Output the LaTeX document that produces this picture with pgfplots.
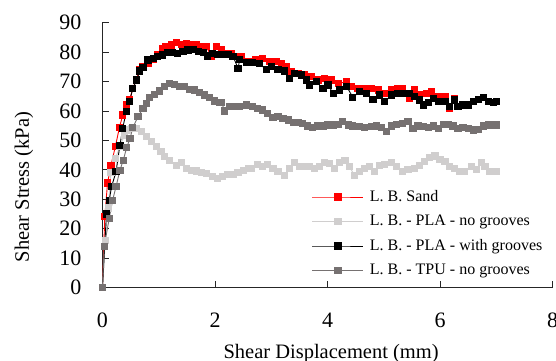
\documentclass[border=0pt]{standalone}
\usepackage{pgfplots}
\pgfplotsset{compat=1.18}
\usepackage{fontspec}
\setmainfont{Liberation Serif}
\definecolor{lgray}{HTML}{D0CECE}
\definecolor{dgray}{HTML}{767171}
\begin{document}
\begin{tikzpicture}
\begin{axis}[
  at={(0,0)}, anchor=south west,
  scale only axis, width=450pt, height=264.8pt,
  xmin=0, xmax=8, ymin=0, ymax=90,
  axis lines=left,
  axis line style={-, black!85, line width=0.8pt},
  xtick={0,2,4,6,8}, ytick={0,10,...,90},
  tick align=inside, major tick length=7pt,
  tick style={black!85, line width=0.8pt},
  /pgf/number format/assume math mode=true,
  ticklabel style={font=\fontsize{22}{22}\selectfont},
  xticklabel style={inner sep=0pt, anchor=north, yshift=-25pt},
  yticklabel style={inner sep=0pt, anchor=east, xshift=-20.8pt},
  xlabel={Shear Displacement (mm)},
  ylabel={Shear Stress (kPa)},
  label style={font=\fontsize{20.5}{20.5}\selectfont},
  xlabel style={at={(axis description cs:0.508,0)}, anchor=base, yshift=-70.5pt},
  ylabel style={at={(axis description cs:-0.1744,0.3795)}, anchor=center},
  clip=false,
  every axis plot/.append style={line width=0.9pt, mark=square*, mark size=3.1pt},
  legend cell align=left,
  legend image code/.code={\draw[mark repeat=2,mark phase=2] plot coordinates {(0pt,0pt) (25.5pt,0pt) (51pt,0pt)};},
  legend style={at={(axis description cs:0.4656,0.372)}, anchor=north west,
    draw=none, fill=none, inner sep=0pt, outer sep=0pt,
    font=\fontsize{16}{16}\selectfont,
    nodes={inner sep=0pt, text height=12pt, text depth=4pt},
    row sep=8.5pt,
    /tikz/every odd column/.append style={column sep=6pt}},
]
\addplot[color=red, mark options={solid, fill=red, draw=red, line width=0pt}] coordinates {
(0,0) (0.04,24) (0.09,35.5) (0.15,41.5) (0.23,48) (0.30,54.3) (0.36,58.6) (0.42,62)
(0.48,63.7) (0.54,67.7) (0.60,70.7) (0.66,73.9) (0.72,75) (0.81,76.2) (0.90,77.5)
(0.98,79) (1.07,81.2) (1.13,82) (1.22,82.4) (1.31,83.2) (1.40,82.7) (1.49,82.9)
(1.58,82.6) (1.67,82.4) (1.76,82) (1.85,82) (1.93,78.4) (2.02,81.8) (2.11,81)
(2.20,79.5) (2.29,79.5) (2.38,78.6) (2.47,78.6) (2.56,76.7) (2.65,76.7) (2.73,77.3)
(2.85,77.9) (2.97,76.7) (3.09,76.7) (3.18,76.2) (3.27,75) (3.36,73.3) (3.48,72.8)
(3.59,72.2) (3.71,71.6) (3.83,70.5) (3.95,71) (4.07,70.5) (4.19,69.4) (4.34,69.9)
(4.43,68.2) (4.54,67.7) (4.66,67.7) (4.78,67.7) (4.90,67.1) (5.02,66) (5.14,67.1)
(5.25,67.7) (5.34,67.7) (5.46,64.3) (5.55,67.1) (5.64,65.4) (5.76,66) (5.85,66.5)
(5.97,64.8) (6.09,64.8) (6.17,60.9) (6.26,64.3)
};
\addlegendentry{L. B. Sand}
\addplot[color=lgray, mark options={solid, fill=lgray, draw=lgray, line width=0pt}] coordinates {
(0,0) (0.05,16) (0.10,27) (0.15,39) (0.23,43.9) (0.31,48) (0.39,51.8) (0.45,53.5)
(0.51,54.1) (0.60,54.1) (0.69,52.9) (0.78,51.2) (0.87,49.5) (0.96,47.8) (1.04,46.1)
(1.10,44.4) (1.19,43.3) (1.31,41.6) (1.40,42.4) (1.49,40.5) (1.58,39.9) (1.67,39.6)
(1.76,39) (1.85,38.7) (1.96,37.6) (2.05,37.1) (2.14,37.6) (2.23,38.4) (2.32,38.4)
(2.41,39) (2.50,39.7) (2.59,40.5) (2.65,40.5) (2.76,41.9) (2.85,41) (2.94,41.9)
(3.03,40.5) (3.12,39.3) (3.24,38.2) (3.33,40.5) (3.42,42.4) (3.51,41) (3.59,41)
(3.68,41) (3.77,40.5) (3.86,41) (3.95,42.4) (4.04,42.2) (4.13,40.5) (4.22,42.4)
(4.31,43.3) (4.39,41) (4.48,38.2) (4.57,39.3) (4.66,40.5) (4.75,41) (4.84,39.3)
(4.93,41.6) (5.02,41.9) (5.14,42.4) (5.23,41) (5.34,39.3) (5.43,40.2) (5.55,40.5)
(5.64,41.6) (5.73,42.7) (5.82,44.2) (5.91,44.7) (6.00,43.5) (6.09,42.7) (6.17,41)
(6.26,40.5) (6.35,39.3) (6.44,39.3) (6.56,41) (6.65,40) (6.74,42.4) (6.80,41)
(6.89,39.3) (7.00,39.3)
};
\addlegendentry{L. B. - PLA - no grooves}
\addplot[color=black, mark options={solid, fill=black, draw=black, line width=0pt}] coordinates {
(0,0) (0.07,25) (0.12,29.7) (0.16,34.2) (0.24,39.3) (0.31,48.4) (0.36,54.1) (0.42,59.7)
(0.48,63.1) (0.54,67.7) (0.61,70.5) (0.66,73.6) (0.72,74.7) (0.81,77.3) (0.90,77.9)
(0.98,78.4) (1.07,79) (1.16,79.9) (1.25,79.9) (1.34,79.5) (1.43,80.1) (1.52,80.7)
(1.61,81) (1.70,80.1) (1.79,79.9) (1.87,78.7) (1.96,79.5) (2.05,79.3) (2.14,79.2)
(2.23,79.2) (2.32,78.6) (2.41,74.5) (2.44,77.5) (2.56,76.5) (2.67,76.5) (2.79,76.1)
(2.91,74.1) (3.00,75.2) (3.12,74.1) (3.24,73.6) (3.33,71) (3.42,72.8) (3.54,72.2)
(3.62,70.5) (3.68,68.8) (3.80,69.9) (3.92,67.7) (4.01,68.8) (4.10,66) (4.22,67.1)
(4.34,68.4) (4.45,64.6) (4.57,66.5) (4.69,66) (4.81,63.9) (4.93,65.4) (5.02,63.1)
(5.14,65.4) (5.25,66) (5.34,66) (5.46,66) (5.55,65) (5.64,63.7) (5.70,62) (5.79,62.8)
(5.88,64.3) (5.97,63.3) (6.09,63.1) (6.17,61.6) (6.26,63.7) (6.32,61.6) (6.41,62)
(6.50,62) (6.59,63.1) (6.68,63.9) (6.77,64.6) (6.86,63.1) (6.95,62.8) (7.00,63.3)
};
\addlegendentry{L. B. - PLA - with grooves}
\addplot[color=dgray, mark options={solid, fill=dgray, draw=dgray, line width=0pt}] coordinates {
(0,0) (0.03,13.9) (0.12,23.5) (0.18,29.7) (0.24,34.2) (0.31,39.9) (0.37,43.3) (0.43,47.6)
(0.49,50.7) (0.54,54.4) (0.63,58) (0.72,60.9) (0.78,62.6) (0.84,64.5) (0.93,65.7)
(1.01,66.8) (1.10,68.2) (1.19,69.4) (1.28,69) (1.37,68.2) (1.46,68.2) (1.55,67.4)
(1.64,67.1) (1.73,66.2) (1.81,65.4) (1.90,64.6) (1.99,63.4) (2.08,63) (2.12,62.8)
(2.17,60) (2.26,61.6) (2.35,61.6) (2.44,61.6) (2.56,62) (2.67,61.6) (2.76,60.9)
(2.85,60.3) (2.94,59.2) (3.03,57.8) (3.12,58) (3.21,57.5) (3.30,56.9) (3.39,56)
(3.48,56.2) (3.56,55.8) (3.65,54.9) (3.74,54.4) (3.83,54.9) (3.92,54.9) (4.01,55.2)
(4.10,55.2) (4.19,55.5) (4.26,56.3) (4.37,55.2) (4.45,54.9) (4.57,54.6) (4.66,54.4)
(4.78,54.6) (4.87,54.9) (4.96,54.4) (5.05,52.9) (5.14,54.9) (5.23,55.5) (5.34,55.8)
(5.43,56.3) (5.52,54.1) (5.61,54.9) (5.70,54.6) (5.79,54.4) (5.88,54.9) (5.97,54.1)
(6.06,55.5) (6.15,55.5) (6.23,54.9) (6.32,54.1) (6.41,54.4) (6.50,54.1) (6.59,53.5)
(6.68,53.7) (6.77,54.9) (6.86,55.2) (6.95,55.2) (7.00,55.2)
};
\addlegendentry{L. B. - TPU - no grooves}
\end{axis}
\pgfresetboundingbox
\path[use as bounding box] (-102.5pt,-72.5pt) rectangle (453.5pt,287.5pt);
\end{tikzpicture}
\end{document}
